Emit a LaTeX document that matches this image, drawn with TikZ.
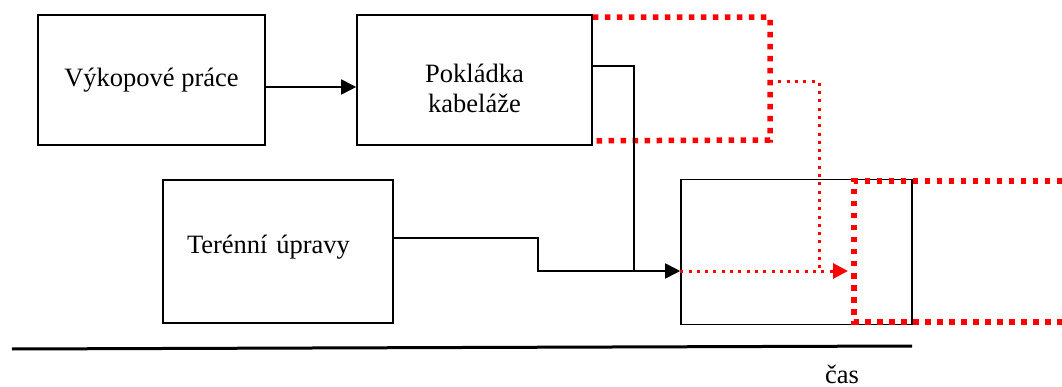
\documentclass[tikz,border=0pt]{standalone}
\usepackage{fontspec}
\setmainfont{Liberation Serif}
\usetikzlibrary{calc}
\usetikzlibrary{arrows.meta}

\begin{document}
\begin{tikzpicture}[x=1pt, y=-1pt, >={Triangle[length=15pt,width=15pt]},
  task/.style={draw, line width=1.6pt, inner sep=0pt, font=\fontsize{26.5}{30}\selectfont},
  link/.style={line width=1.8pt},
  delay/.style={red, line width=5.5pt, dash pattern=on 5.5pt off 6.5pt},
  slip/.style={red, line width=3pt, dash pattern=on 3pt off 5.3pt}]

\useasboundingbox (0,0) rectangle (1062,387);

% cinnosti
\node [task, minimum width=227pt, minimum height=130pt] (vykop) at (151.5,80) {Výkopové práce};
\node [task, minimum width=235pt, minimum height=130pt, align=center] (pokladka) at (474.5,80) {\rule{0pt}{36pt}Pokládka\\kabeláže};
\node [task, minimum width=230pt, minimum height=143pt, align=left, text width=182pt] (teren) at (278,251.5) {Terénní úpravy\rule[-15pt]{0pt}{1pt}};
\node [task, minimum width=231pt, minimum height=145pt] (zaver) at (796.5,252) {};

% posunuta pokladka
\draw [delay] (pokladka.north east) ++(0,3) -| (770,140) -- ($(pokladka.south east)+(0,-5)$);
\draw [delay] (1062,181) -- (854,181) -- (854,322) -- (1062,322);

% vazby
\coordinate (spoj) at (634,271);
\draw [link, ->] ([yshift=-7pt]vykop.east) -- ([yshift=-7pt]pokladka.west);
\draw [link] ([yshift=14pt]pokladka.east) -| (spoj);
\draw [link, ->] ([yshift=13.5pt]teren.east) -- (538,238) |- ([yshift=-19pt]zaver.west);

\coordinate (posun) at (848,271);
\draw [slip] (770,82) -| (819,271);
\draw [slip, ->, red] ([yshift=-19pt]zaver.west) -- (posun);

% casova osa
\draw [line width=3pt] (12,349) -- (912,346);
\node [font=\fontsize{26.5}{30}\selectfont] (cas) at (842,374) {čas};

\end{tikzpicture}
\end{document}
